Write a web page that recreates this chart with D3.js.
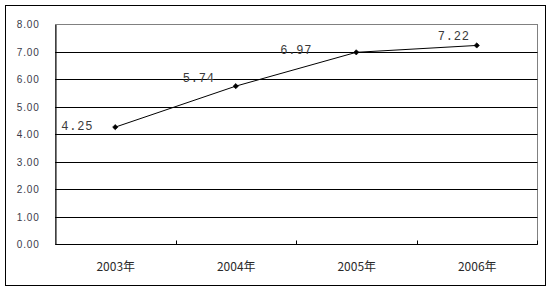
<!DOCTYPE html>
<html><head><meta charset="utf-8">
<script src="https://cdn.jsdelivr.net/npm/d3@7/dist/d3.min.js"></script>
<style>
html,body{margin:0;padding:0;background:#fff;}
svg{display:block;}
</style></head>
<body>
<svg id="c" width="550" height="292"></svg>
<script>
const categories = ["2003年", "2004年", "2005年", "2006年"];
const values = [4.25, 5.74, 6.97, 7.22];
const valueLabels = ["4.25", "5.74", "6.97", "7.22"];
const yTicks = [0, 1, 2, 3, 4, 5, 6, 7, 8];

// label offsets (layout only)
const labelOffsets = [[-22, 0], [-21, -7], [-44, -1], [-7, -9]];

const svg = d3.select("#c");
const L = 55, R = 537, T = 24, B = 244;

svg.append("rect").attr("x", 5.5).attr("y", 5.5).attr("width", 540).attr("height", 280)
  .attr("fill", "#fff").attr("stroke", "#000").attr("stroke-width", 1);

const x = d3.scaleBand().domain(categories).range([L, R]).padding(0);
const y = d3.scaleLinear().domain([0, 8]).range([B, T]);

// plot area border (gray top/right)
svg.append("rect").attr("x", L + 0.5).attr("y", T + 0.5).attr("width", R - L).attr("height", B - T)
  .attr("fill", "none").attr("stroke", "#808080");

// gridlines
svg.append("g").selectAll("line").data(yTicks.filter(d => d > 0 && d < 8)).join("line")
  .attr("x1", L).attr("x2", R + 0.5)
  .attr("y1", d => Math.round(y(d)) + 0.5).attr("y2", d => Math.round(y(d)) + 0.5)
  .attr("stroke", "#000").attr("stroke-width", 1);

// y axis
const yAxis = d3.axisLeft(y).tickValues(yTicks).tickSize(0).tickPadding(16)
  .tickFormat(d3.format(".2f"));
const gy = svg.append("g").attr("transform", `translate(${L + 0.5},0.5)`).call(yAxis);
gy.select(".domain").attr("stroke", "#000");
gy.selectAll("text").attr("font-family", "Liberation Sans, Arial, sans-serif")
  .attr("font-size", 10).attr("fill", "#3a3a4a").style("letter-spacing", "0.8px");

// x axis
const gx = svg.append("g").attr("transform", `translate(0.5,${B + 0.5})`);
gx.append("line").attr("x1", L).attr("x2", R).attr("y1", 0).attr("y2", 0).attr("stroke", "#000");
const bounds = categories.map(c => x(c) + x.bandwidth()).map(Math.round);
gx.selectAll("line.tk").data(bounds).join("line").attr("class", "tk")
  .attr("x1", d => d).attr("x2", d => d).attr("y1", 0).attr("y2", -4).attr("stroke", "#000");
gx.selectAll("text").data(categories).join("text")
  .attr("x", d => x(d) + x.bandwidth() / 2).attr("y", 23)
  .attr("text-anchor", "middle").attr("dominant-baseline", "middle")
  .attr("font-family", "Noto Sans CJK SC, sans-serif").attr("font-size", 12).attr("fill", "#2a2a2a")
  .text(d => d);

// line
const cx = (d, i) => x(categories[i]) + x.bandwidth() / 2;
const line = d3.line().x((d, i) => cx(d, i)).y(d => y(d));
svg.append("path").datum(values).attr("d", line).attr("fill", "none")
  .attr("stroke", "#000").attr("stroke-width", 1);

// markers (diamonds)
svg.append("g").selectAll("path").data(values).join("path")
  .attr("d", d3.symbol().type(d3.symbolSquare).size(14))
  .attr("transform", (d, i) => `translate(${cx(d, i)},${y(d)}) rotate(45)`)
  .attr("fill", "#000").attr("stroke", "#000").attr("stroke-width", 0.6);

// data labels
svg.append("g").selectAll("text").data(values).join("text")
  .attr("x", (d, i) => cx(d, i) + labelOffsets[i][0])
  .attr("y", (d, i) => y(d) + labelOffsets[i][1])
  .attr("text-anchor", "end").attr("dominant-baseline", "middle")
  .attr("font-family", "Liberation Mono, monospace").attr("font-size", 12)
  .attr("fill", "#3a3a3a").style("letter-spacing", "0.8px")
  .text((d, i) => valueLabels[i]);
</script>
</body></html>
